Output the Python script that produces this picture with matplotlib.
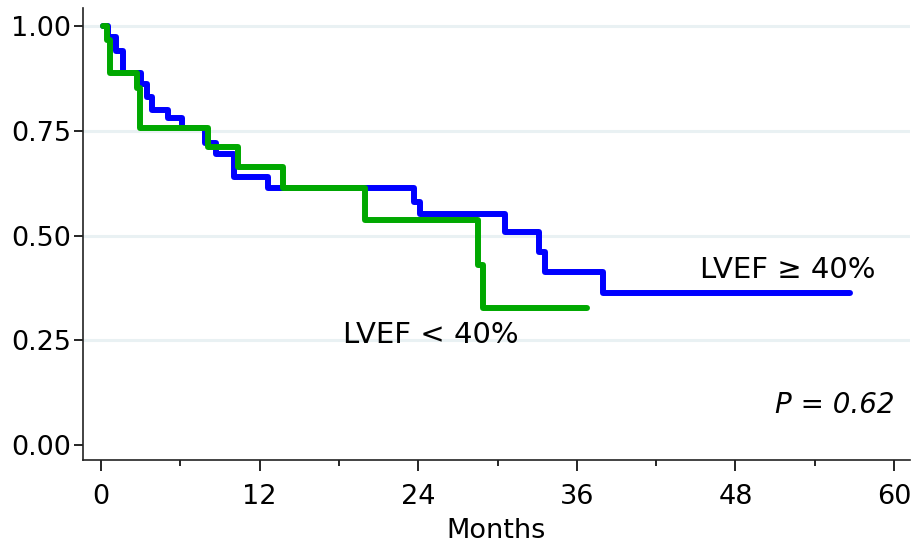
#!/usr/bin/env python3
"""Kaplan-Meier style survival curves by LVEF group."""

import matplotlib

matplotlib.use("Agg")
import matplotlib.pyplot as plt
from matplotlib.ticker import MultipleLocator

# LVEF >= 40% (blue): step times (months) and survival after each step
high_t = [0.15, 0.55, 1.15, 1.65, 3.05, 3.45, 3.85, 5.1, 6.1, 7.9, 8.7, 10.1, 12.6,
          23.7, 24.1, 30.6, 33.1, 33.6, 38.0, 56.7]
high_s = [1.0, 0.974, 0.94, 0.888, 0.862, 0.831, 0.80, 0.78, 0.757, 0.72, 0.694, 0.64, 0.613,
          0.58, 0.551, 0.509, 0.462, 0.414, 0.363, 0.363]

# LVEF < 40% (green)
low_t = [0.15, 0.43, 0.68, 2.7, 2.95, 8.1, 10.4, 13.8, 20.0, 28.5, 28.9, 36.8]
low_s = [1.0, 0.967, 0.888, 0.852, 0.757, 0.712, 0.664, 0.613, 0.537, 0.43, 0.327, 0.327]

x_ticks = [0, 12, 24, 36, 48, 60]
y_ticks = [0.0, 0.25, 0.5, 0.75, 1.0]
y_tick_labels = ["0.00", "0.25", "0.50", "0.75", "1.00"]

BLUE = "#0000ff"
GREEN = "#00a800"
GRID = "#e9f1f3"

fig = plt.figure(figsize=(9.14, 5.47), dpi=100)
ax = fig.add_axes([0.0908, 0.159, 0.9048, 0.826])

for v in y_ticks[1:]:
    ax.axhline(v, color=GRID, lw=2.2, zorder=0)

ax.plot(high_t, high_s, drawstyle="steps-post", color=BLUE, lw=4.3,
        solid_joinstyle="round", solid_capstyle="round", zorder=2)
ax.plot(low_t, low_s, drawstyle="steps-post", color=GREEN, lw=4.3,
        solid_joinstyle="round", solid_capstyle="round", zorder=3)

ax.set_xlim(-1.36, 61.2)
ax.set_ylim(-0.0358, 1.043)
ax.set_xticks(x_ticks)
ax.xaxis.set_minor_locator(MultipleLocator(6))
ax.set_yticks(y_ticks)
ax.set_yticklabels(y_tick_labels)

ax.tick_params(axis="x", which="major", length=8, width=1.2, labelsize=19.5, pad=9)
ax.tick_params(axis="x", which="minor", length=4, width=1.2)
ax.tick_params(axis="y", which="major", length=6.5, width=1.2, labelsize=19.5, pad=2)

for side in ("top", "right"):
    ax.spines[side].set_visible(False)
for side in ("left", "bottom"):
    ax.spines[side].set_linewidth(1.2)
    ax.spines[side].set_color("#222222")

ax.set_xlabel("Months", fontsize=19.5, labelpad=6)

ax.text(45.3, 0.418, "LVEF \u2265 40%", fontsize=21, va="center", ha="left")
ax.text(18.3, 0.262, "LVEF < 40%", fontsize=21, va="center", ha="left")
ax.text(60.0, 0.095, "P = 0.62", fontsize=20, style="italic", va="center", ha="right")

fig.savefig("out.png", dpi=100)
